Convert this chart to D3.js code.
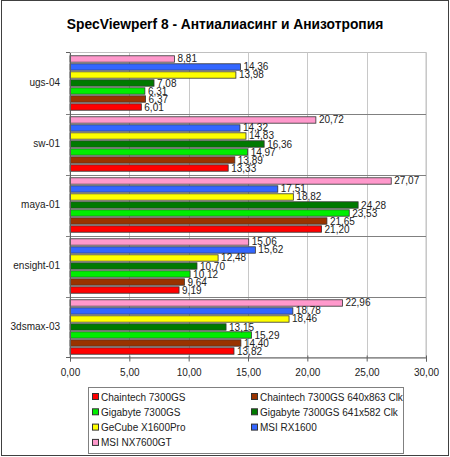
<!DOCTYPE html>
<html>
<head>
<meta charset="utf-8">
<script src="https://cdn.jsdelivr.net/npm/d3@7"></script>
<style>
	body { margin: 0; background: #fff; }
	text { font-family: Arial, "Liberation Sans", sans-serif; }
</style>
</head>
<body>
<div id="chart"></div>
<script>
// categories, top to bottom
const categories = ["ugs-04", "sw-01", "maya-01", "ensight-01", "3dsmax-03"];

const seriesNames = [
	"Chaintech 7300GS",
	"Chaintech 7300GS 640x863 Clk",
	"Gigabyte 7300GS",
	"Gigabyte 7300GS 641x582 Clk",
	"GeCube X1600Pro",
	"MSI RX1600",
	"MSI NX7600GT"
];
const seriesColors = ["#ff0000", "#993300", "#00ee00", "#007a00", "#ffff00", "#3366ff", "#ff99cc"];

// values per series, same order as categories
const chaintech = [6.01, 13.33, 21.20, 9.19, 13.82];
const chaintechClk = [6.37, 13.89, 21.65, 9.64, 14.40];
const gigabyte = [6.31, 14.97, 23.53, 10.12, 15.29];
const gigabyteClk = [7.08, 16.36, 24.28, 10.70, 13.15];
const gecube = [13.98, 14.83, 18.82, 12.48, 18.46];
const msiRx = [14.36, 14.32, 17.51, 15.62, 18.78];
const msiNx = [8.81, 20.72, 27.07, 15.06, 22.96];

const xTicks = [0, 5, 10, 15, 20, 25, 30];

const values = [chaintech, chaintechClk, gigabyte, gigabyteClk, gecube, msiRx, msiNx];

const width = 450, height = 457;
const fmt = (v) => d3.format(".2f")(v).replace(".", ",");

const svg = d3.select("div#chart")
	.append("svg")
		.attr("width", width)
		.attr("height", height);

// outer frame
svg.append("rect")
	.attr("x", 1.5).attr("y", 0.5)
	.attr("width", 447).attr("height", 455)
	.attr("fill", "#fff")
	.attr("stroke", "#404040");

svg.append("text")
	.attr("x", 225).attr("y", 29)
	.attr("text-anchor", "middle")
	.attr("font-size", "13.8px")
	.attr("font-weight", "bold")
	.attr("fill", "#000")
	.text("SpecViewperf 8 - Антиалиасинг и Анизотропия");

const scaleX = d3.scaleLinear().domain([0, 30]).range([70, 426]);
const scaleY = d3.scaleBand().domain(categories).range([52.5, 357.5]);
const inner = d3.scaleBand()
	.domain(d3.range(seriesNames.length).reverse())
	.range([0, scaleY.bandwidth()])
	.paddingInner(0.2)
	.paddingOuter(0.41);

// plot border + vertical grid
svg.append("rect")
	.attr("x", scaleX(0)).attr("y", scaleY.range()[0])
	.attr("width", scaleX(30) - scaleX(0))
	.attr("height", scaleY.range()[1] - scaleY.range()[0])
	.attr("fill", "none")
	.attr("stroke", "#c0c0c0");

svg.append("g")
	.selectAll("line")
	.data(xTicks.slice(1))
	.enter()
	.append("line")
	.attr("x1", (d) => Math.round(scaleX(d)) + 0.5)
	.attr("x2", (d) => Math.round(scaleX(d)) + 0.5)
	.attr("y1", scaleY.range()[0])
	.attr("y2", scaleY.range()[1])
	.attr("stroke", "#c8c8c8");

// category separators
svg.append("g")
	.selectAll("line")
	.data(categories.slice(1))
	.enter()
	.append("line")
	.attr("x1", scaleX(0) - 4)
	.attr("x2", scaleX(30))
	.attr("y1", (d) => Math.round(scaleY(d)) + 0.5)
	.attr("y2", (d) => Math.round(scaleY(d)) + 0.5)
	.attr("stroke", "#808080");

// bars
const groups = svg.append("g")
	.selectAll("g")
	.data(categories)
	.enter()
	.append("g")
	.attr("transform", (d) => `translate(0,${scaleY(d)})`);

groups.selectAll("rect")
	.data((c, ci) => values.map((s, si) => ({ si: si, v: s[ci] })))
	.enter()
	.append("rect")
	.attr("x", scaleX(0))
	.attr("y", (d) => inner(d.si))
	.attr("width", (d) => scaleX(d.v) - scaleX(0))
	.attr("height", inner.bandwidth())
	.attr("fill", (d) => seriesColors[d.si])
	.attr("stroke", "#333")
	.attr("stroke-width", 0.8);

groups.selectAll("text")
	.data((c, ci) => values.map((s, si) => ({ si: si, v: s[ci] })))
	.enter()
	.append("text")
	.attr("x", (d) => scaleX(d.v) + 3)
	.attr("y", (d) => inner(d.si) + inner.bandwidth() / 2 + 3.5)
	.attr("font-size", "10px")
	.attr("fill", "#222")
	.text((d) => fmt(d.v));

// axes
const axisX = d3.axisBottom(scaleX).tickValues(xTicks).tickSize(4).tickFormat(fmt);
const gx = svg.append("g")
	.attr("transform", `translate(0,${scaleY.range()[1]})`)
	.call(axisX);
gx.select(".domain").attr("stroke", "#606060");
gx.selectAll(".tick line").attr("stroke", "#606060").attr("y1", -2);
gx.selectAll(".tick text")
	.attr("font-size", "10px")
	.attr("font-family", "Arial, 'Liberation Sans', sans-serif")
	.attr("fill", "#222")
	.attr("dy", "1.1em");

const axisY = d3.axisLeft(scaleY).tickSize(0).tickPadding(10);
const gy = svg.append("g")
	.attr("transform", `translate(${scaleX(0)},0)`)
	.call(axisY);
gy.select(".domain").attr("stroke", "#606060");
gy.selectAll(".tick text")
	.attr("font-size", "10px")
	.attr("font-family", "Arial, 'Liberation Sans', sans-serif")
	.attr("fill", "#222");

// category boundary ticks at top and bottom
svg.append("g")
	.selectAll("line")
	.data([scaleY.range()[0], scaleY.range()[1]])
	.enter()
	.append("line")
	.attr("x1", scaleX(0) - 4).attr("x2", scaleX(0))
	.attr("y1", (d) => d).attr("y2", (d) => d)
	.attr("stroke", "#606060");

// legend
const legend = svg.append("g");
legend.append("rect")
	.attr("x", 88.5).attr("y", 387.5)
	.attr("width", 315).attr("height", 66)
	.attr("fill", "#fff")
	.attr("stroke", "#808080");

const items = legend.selectAll("g.item")
	.data(seriesNames)
	.enter()
	.append("g")
	.attr("class", "item")
	.attr("transform", (d, i) => `translate(${i % 2 === 0 ? 92 : 251},${397 + Math.floor(i / 2) * 15.3})`);

items.append("rect")
	.attr("x", 0.5).attr("y", -3.5)
	.attr("width", 6).attr("height", 6)
	.attr("fill", (d, i) => seriesColors[i])
	.attr("stroke", "#333");

items.append("text")
	.attr("x", 9).attr("y", 3.5)
	.attr("font-size", "10px")
	.attr("fill", "#222")
	.text((d) => d);
</script>
</body>
</html>
